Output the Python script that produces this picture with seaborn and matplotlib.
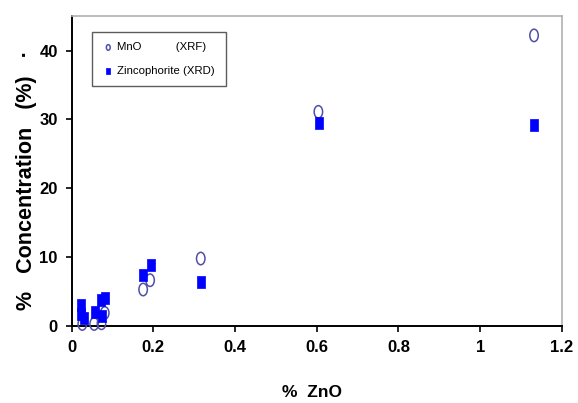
import numpy as np
import pandas as pd
import matplotlib
matplotlib.use("Agg")
import matplotlib.pyplot as plt
from matplotlib.path import Path
from matplotlib.transforms import Affine2D
import seaborn as sns

# MnO measured by XRF
mno_zno = [0.026, 0.055, 0.073, 0.081, 0.175, 0.192, 0.316, 0.604, 1.132]
mno_conc = [0.3, 0.3, 0.4, 1.9, 5.3, 6.65, 9.8, 31.1, 42.2]

# Zincophorite measured by XRD
zin_zno = [0.024, 0.024, 0.030, 0.058, 0.075, 0.073, 0.082, 0.175, 0.193, 0.316, 0.605, 1.133]
zin_conc = [3.0, 1.8, 1.1, 2.0, 1.4, 3.8, 4.1, 7.4, 8.9, 6.4, 29.45, 29.2]

x_ticks = [0, 0.2, 0.4, 0.6, 0.8, 1.0, 1.2]
x_tick_labels = ["0", "0.2", "0.4", "0.6", "0.8", "1", "1.2"]
y_ticks = [0, 10, 20, 30, 40]

sns.set_style("white")
plt.rcParams["font.family"] = ["Liberation Sans", "DejaVu Sans"]
plt.rcParams["text.color"] = "black"
plt.rcParams["xtick.color"] = "black"
plt.rcParams["ytick.color"] = "black"
plt.rcParams["axes.labelcolor"] = "black"

fig = plt.figure(figsize=(5.78, 4.03), dpi=100)
ax = fig.add_axes([0.124, 0.191, 0.848, 0.769])

# tall, narrow marker shapes
ellipse = Path.unit_circle().transformed(Affine2D().scale(0.68, 1.0))
rect = Path([(-0.68, -1), (0.68, -1), (0.68, 1), (-0.68, 1), (-0.68, -1)],
            [Path.MOVETO, Path.LINETO, Path.LINETO, Path.LINETO, Path.CLOSEPOLY])

mno = pd.DataFrame({"zno": mno_zno, "conc": mno_conc})
zin = pd.DataFrame({"zno": zin_zno, "conc": zin_conc})

sns.scatterplot(data=mno, x="zno", y="conc", ax=ax, marker=ellipse, s=80,
                facecolor="none", edgecolor="#4f4fa6", linewidth=1.1,
                label="MnO           (XRF)", clip_on=False, zorder=3)
sns.scatterplot(data=zin, x="zno", y="conc", ax=ax, marker=rect, s=75,
                color="#0000ff", edgecolor="#0000ff", linewidth=0.5,
                label="Zincophorite (XRD)", clip_on=False, zorder=4)

ax.set_xlim(0, 1.2)
ax.set_ylim(0, 45)
ax.set_xticks(x_ticks)
ax.set_xticklabels(x_tick_labels)
ax.set_yticks(y_ticks)

for lab in ax.get_xticklabels() + ax.get_yticklabels():
    lab.set_fontweight("bold")
    lab.set_fontsize(12)

ax.tick_params(axis="both", which="major", direction="out", length=4, width=1.2,
               color="black", bottom=True, left=True, pad=6)

ax.spines["left"].set_color("black")
ax.spines["bottom"].set_color("black")
ax.spines["left"].set_linewidth(1.4)
ax.spines["bottom"].set_linewidth(1.4)
ax.spines["top"].set_color("#b0b0b0")
ax.spines["right"].set_color("#b0b0b0")
ax.spines["top"].set_linewidth(1.2)
ax.spines["right"].set_linewidth(1.2)

ax.set_xlabel("%  ZnO", fontsize=12.5, fontweight="bold")
ax.xaxis.set_label_coords(0.49, -0.19)
ax.set_ylabel("%   Concentration   (%)   \u00b7", fontsize=15.5, fontweight="bold")
ax.yaxis.set_label_coords(-0.07, 0.47)

leg = ax.legend(loc="upper left", bbox_to_anchor=(0.041, 0.95), frameon=True,
                fancybox=False, fontsize=8.2, markerscale=0.45, handletextpad=0.3,
                borderpad=0.95, labelspacing=1.15, handlelength=1.0, borderaxespad=0)
leg.get_frame().set_edgecolor("#333333")
leg.get_frame().set_linewidth(1.0)

fig.savefig("out.png", dpi=100)
